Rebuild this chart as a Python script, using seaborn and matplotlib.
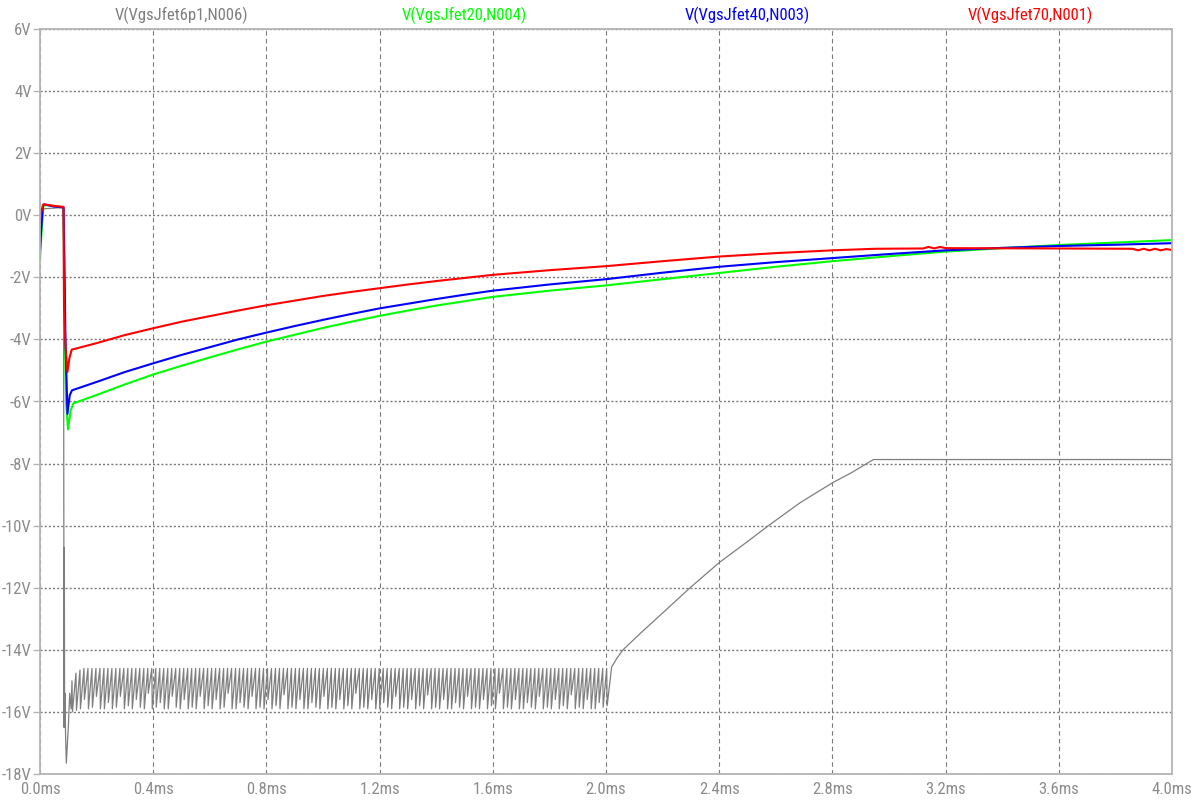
import numpy as np
import pandas as pd
import seaborn as sns
import matplotlib.pyplot as plt

# time in ms, voltage in V
red_t = [0.0, 0.004, 0.012, 0.03, 0.05, 0.083, 0.085, 0.09, 0.097, 0.104, 0.112,
         0.2, 0.3, 0.4, 0.5, 0.6, 0.7, 0.8, 0.9, 1.0, 1.1, 1.2, 1.3, 1.4, 1.5, 1.6,
         1.8, 2.0, 2.2, 2.4, 2.6, 2.8, 2.95, 3.12, 3.14, 3.16, 3.18, 3.2, 3.6,
         3.86, 3.88, 3.9, 3.92, 3.94, 3.96, 3.98, 4.0]
red_v = [-0.25, 0.1, 0.35, 0.33, 0.3, 0.27, -3.0, -4.2, -5.05, -4.6, -4.33,
         -4.12, -3.86, -3.64, -3.43, -3.25, -3.07, -2.9, -2.75, -2.6, -2.47, -2.35, -2.23, -2.12, -2.02, -1.92,
         -1.77, -1.64, -1.48, -1.33, -1.22, -1.13, -1.08, -1.07, -1.02, -1.07, -1.02, -1.06, -1.07,
         -1.08, -1.13, -1.08, -1.13, -1.08, -1.13, -1.09, -1.12]

blue_t = [0.0, 0.004, 0.01, 0.015, 0.05, 0.083, 0.086, 0.09, 0.097, 0.105, 0.113,
          0.2, 0.3, 0.4, 0.5, 0.6, 0.7, 0.8, 0.9, 1.0, 1.1, 1.2, 1.3, 1.4, 1.5, 1.6,
          1.8, 2.0, 2.2, 2.4, 2.6, 2.8, 3.0, 3.2, 3.4, 3.6, 3.8, 4.0]
blue_v = [-1.1, -0.5, 0.3, 0.35, 0.28, 0.25, -1.3, -4.0, -6.4, -5.8, -5.64,
          -5.37, -5.05, -4.77, -4.5, -4.25, -4.0, -3.78, -3.57, -3.37, -3.18, -3.0, -2.85, -2.7, -2.56, -2.43,
          -2.23, -2.06, -1.85, -1.66, -1.51, -1.38, -1.25, -1.13, -1.05, -0.99, -0.95, -0.9]

green_t = [0.0, 0.005, 0.012, 0.02, 0.05, 0.083, 0.088, 0.092, 0.099, 0.108, 0.118,
           0.2, 0.3, 0.4, 0.5, 0.6, 0.7, 0.8, 0.9, 1.0, 1.1, 1.2, 1.3, 1.4, 1.5, 1.6,
           1.8, 2.0, 2.2, 2.4, 2.6, 2.8, 3.0, 3.2, 3.4, 3.6, 3.8, 4.0]
green_v = [-1.45, -0.6, 0.3, 0.33, 0.3, 0.25, -4.0, -6.0, -6.9, -6.3, -6.06,
           -5.79, -5.45, -5.13, -4.85, -4.58, -4.32, -4.07, -3.85, -3.63, -3.43, -3.24, -3.07, -2.91, -2.77, -2.63,
           -2.43, -2.26, -2.06, -1.86, -1.66, -1.48, -1.32, -1.17, -1.06, -0.96, -0.88, -0.8]

# gray trace: start-up transient, then the ripple, then the ramp and flat tail
gray_head_t = [0.0, 0.083, 0.085, 0.086, 0.087, 0.088, 0.09, 0.093, 0.1, 0.105, 0.11]
gray_head_v = [0.2, 0.25, -16.5, -10.7, -16.3, -15.4, -16.6, -17.65, -16.5, -15.4, -15.9]

ripple_start, ripple_period = 0.113, 0.0141
ripple_tops = [-15.0, -14.75, -14.65] + [-14.6] * 132
ripple_bottoms = [
    -16.0, -15.95, -15.9, -15.6, -15.9, -15.85, -15.5, -15.9, -15.9, -15.7, -15.9, -15.85, -15.5, -15.9, -15.8,
    -15.9, -15.6, -15.85, -15.9, -15.4, -15.9, -15.85, -15.7, -15.9, -15.9, -15.5, -15.85, -15.9, -15.6, -15.9,
    -15.85, -15.9, -15.5, -15.9, -15.8, -15.9, -15.6, -15.9, -15.85, -15.4, -15.9, -15.9, -15.7, -15.85, -15.9,
    -15.5, -15.9, -15.85, -15.9, -15.6, -15.9, -15.8, -15.9, -15.45, -15.9, -15.85, -15.9, -15.6, -15.9, -15.9,
    -15.7, -15.85, -15.9, -15.5, -15.9, -15.85, -15.9, -15.6, -15.9, -15.8, -15.9, -15.4, -15.9, -15.85, -15.9,
    -15.6, -15.9, -15.9, -15.7, -15.85, -15.9, -15.5, -15.9, -15.85, -15.9, -15.6, -15.9, -15.8, -15.9, -15.45,
    -15.9, -15.85, -15.9, -15.6, -15.9, -15.9, -15.7, -15.85, -15.9, -15.5, -15.9, -15.85, -15.9, -15.6, -15.9,
    -15.8, -15.9, -15.4, -15.9, -15.85, -15.9, -15.6, -15.9, -15.9, -15.7, -15.85, -15.9, -15.5, -15.9, -15.85,
    -15.9, -15.6, -15.9, -15.8, -15.9, -15.45, -15.9, -15.85, -15.9, -15.6, -15.9, -15.9, -15.7, -15.85, -15.8,
]

gray_tail_t = [2.02, 2.04, 2.06, 2.12, 2.18, 2.24, 2.297, 2.4, 2.49, 2.574, 2.686, 2.8, 2.87, 2.928, 2.945, 4.0]
gray_tail_v = [-14.55, -14.25, -14.0, -13.48, -12.98, -12.48, -12.0, -11.19, -10.58, -10.0, -9.26, -8.62, -8.28, -7.96, -7.87, -7.87]

trace_names = ["V(VgsJfet6p1,N006)", "V(VgsJfet20,N004)", "V(VgsJfet40,N003)", "V(VgsJfet70,N001)"]
trace_colors = ["#7f7f7f", "#00ff00", "#0000ff", "#ff0000"]
y_ticks = list(range(-18, 7, 2))
x_ticks = [0.0, 0.4, 0.8, 1.2, 1.6, 2.0, 2.4, 2.8, 3.2, 3.6, 4.0]

# build the ripple: sharp drop to the bottom, slow climb back to the top
gray_t, gray_v = list(gray_head_t), list(gray_head_v)
for i, (top, bot) in enumerate(zip(ripple_tops, ripple_bottoms)):
    t0 = ripple_start + i * ripple_period
    gray_t += [t0, t0 + 0.12 * ripple_period]
    gray_v += [top, bot]
gray_t += gray_tail_t
gray_v += gray_tail_v

frames = []
for name, t, v in zip(trace_names,
                      [gray_t, green_t, blue_t, red_t],
                      [gray_v, green_v, blue_v, red_v]):
    frames.append(pd.DataFrame({"t": t, "v": v, "trace": name}))
df = pd.concat(frames, ignore_index=True)

sns.set_style("white")
plt.rcParams["font.family"] = ["DejaVu Sans Condensed", "Roboto Condensed",
                               "Liberation Sans Narrow", "Roboto", "DejaVu Sans"]

fig = plt.figure(figsize=(11.96, 8.05), dpi=100)
ax = fig.add_axes([40 / 1196, 31 / 805, 1132 / 1196, 745 / 805])

for name, color in zip(trace_names, trace_colors):
    sub = df[df.trace == name]
    sns.lineplot(data=sub, x="t", y="v", color=color, estimator=None, sort=False,
                 linewidth=0.9 if name == trace_names[0] else 1.5, ax=ax, legend=False)

ax.set_xlim(0, 4.0)
ax.set_ylim(-18, 6)
ax.set_xticks(x_ticks)
ax.set_xticklabels([f"{x:.1f}ms" for x in x_ticks])
ax.set_yticks(y_ticks)
ax.set_yticklabels([f"{y}V" if y != 0 else "0V" for y in y_ticks])
ax.set_xlabel("")
ax.set_ylabel("")

ax.xaxis.grid(True, color="#7a7a7a", linestyle=(0, (4, 3)), linewidth=0.8)
ax.yaxis.grid(True, color="#7a7a7a", linestyle=(0, (1.5, 1.5)), linewidth=1.0)
ax.set_axisbelow(True)

for sp in ax.spines.values():
    sp.set_color("#b4b4b4")
    sp.set_linewidth(1.3)

ax.tick_params(axis="y", length=5, width=1, color="#b4b4b4", labelcolor="#8c8c8c",
               labelsize=12, pad=1, left=True)
ax.tick_params(axis="x", length=0, labelcolor="#8c8c8c", labelsize=12, pad=6, bottom=True)

for i, (name, color) in enumerate(zip(trace_names, trace_colors)):
    ax.text(0.125 + 0.25 * i, 1.0 + 14 / 745, name, color=color, fontsize=12,
            ha="center", va="center", transform=ax.transAxes)

fig.savefig("out.png", dpi=100)
